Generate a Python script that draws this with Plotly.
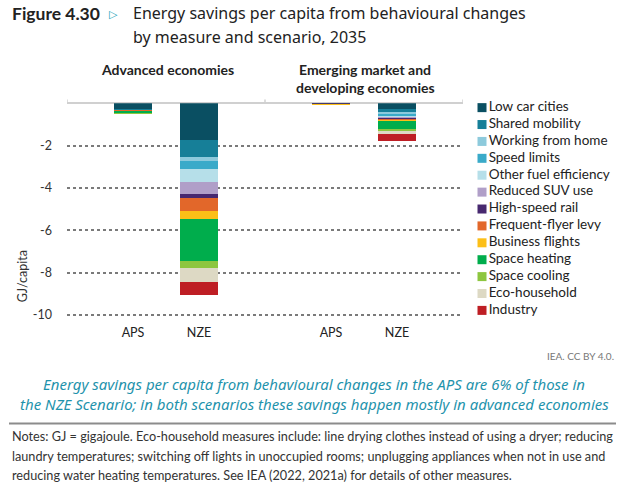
import plotly.graph_objects as go

W, H = 640, 492

measures = ["Low car cities", "Shared mobility", "Working from home", "Speed limits",
            "Other fuel efficiency", "Reduced SUV use", "High-speed rail",
            "Frequent-flyer levy", "Business flights", "Space heating",
            "Space cooling", "Eco-household", "Industry"]
colors = ["#0a4f62", "#167f98", "#8dcadc", "#3aaac9", "#b6dfe9", "#b09fc8", "#47286f",
          "#e2672a", "#fcbf17", "#00ad4c", "#8dc63f", "#ddd9c4", "#be1e24"]

groups = ["Advanced economies", "Emerging market and<br>developing economies"]
scenarios = ["APS", "NZE"]

# savings in GJ/capita (shown as negative values)
adv_aps = [0.33, 0.02, 0.00, 0.00, 0.00, 0.00, 0.00, 0.05, 0.00, 0.08, 0.03, 0.00, 0.00]
adv_nze = [1.74, 0.80, 0.20, 0.36, 0.63, 0.55, 0.19, 0.64, 0.38, 1.99, 0.31, 0.67, 0.60]
emd_aps = [0.03, 0.00, 0.00, 0.00, 0.00, 0.00, 0.02, 0.00, 0.01, 0.00, 0.00, 0.00, 0.00]
emd_nze = [0.28, 0.19, 0.09, 0.06, 0.08, 0.05, 0.02, 0.04, 0.05, 0.38, 0.06, 0.18, 0.33]

y_ticks = [-2, -4, -6, -8, -10]
y_tick_labels = ["-2", "-4", "-6", "-8", "-10"]

series = [adv_aps, adv_nze, emd_aps, emd_nze]
x_pos = [g * 3 + s + 1 for g in range(len(groups)) for s in range(len(scenarios))]
x_lab = [s for g in groups for s in scenarios]

def px(x):
    return x / W

def py(y):
    return 1 - y / H

FONT = "Lato"
TFONT = "Noto Sans"
fig = go.Figure()

for i, m in enumerate(measures):
    fig.add_trace(go.Bar(
        x=x_pos, y=[-s[i] for s in series], name=m,
        marker=dict(color=colors[i], line=dict(width=0)),
        width=0.59, showlegend=False, hoverinfo="name+y"))

# legend drawn as a scatter on its own axes
fig.add_trace(go.Scatter(
    x=[0] * len(measures), y=list(range(len(measures))),
    mode="markers+text", text=measures, textposition="middle right",
    marker=dict(symbol="square", size=9, color=colors),
    textfont=dict(family=FONT, size=13.5, color="#222"),
    xaxis="x2", yaxis="y2", showlegend=False, hoverinfo="skip", cliponaxis=False))

plot_top, plot_bot = 104, 321.3
fig.update_layout(
    width=W, height=H, margin=dict(l=0, r=0, t=0, b=0),
    paper_bgcolor="white", plot_bgcolor="white",
    barmode="relative", bargap=0,
    font=dict(family=FONT, size=12, color="#333"),
    xaxis=dict(domain=[px(67), px(463)], range=[0, 6], tickvals=x_pos, ticktext=x_lab,
               showgrid=False, zeroline=False, showline=False, ticks="",
               ticklabelstandoff=4, tickfont=dict(size=12.5, color="#222")),
    yaxis=dict(domain=[py(plot_bot), py(plot_top)], range=[-10.2, 0],
               tickvals=y_ticks, ticktext=y_tick_labels, showgrid=True,
               gridcolor="#7a7a7a", griddash="dot", gridwidth=1.5,
               zeroline=True, zerolinecolor="#d0d0d0", zerolinewidth=1.5,
               ticks="", ticklabelstandoff=14, tickfont=dict(size=12.5, color="#333")),
    xaxis2=dict(domain=[px(470), 1], range=[-12, 158], visible=False, anchor="y2"),
    yaxis2=dict(domain=[py(plot_bot), py(plot_top)],
                range=[(plot_bot - 108.3) / 17, -(108.3 - plot_top) / 17],
                visible=False, anchor="x2"),
)

ann = []
def text(x, y, s, size=12, color="#333", xanchor="left", family=FONT, **kw):
    ann.append(dict(x=px(x), y=py(y), xref="paper", yref="paper", text=s, showarrow=False,
                    xanchor=xanchor, yanchor="middle",
                    font=dict(size=size, color=color, family=family), **kw))

text(10, 14, "<b>Figure 4.30</b>", size=17.5, color="#222", family=FONT)
text(107, 15, "▷", size=11, color="#1aa0b8", family="DejaVu Sans")
text(131, 13, "Energy savings per capita from behavioural changes", size=16, color="#222", family=TFONT)
text(131, 37, "by measure and scenario, 2035", size=16, color="#222", family=TFONT)

text(167, 70, "<b>Advanced economies</b>", size=14, color="#222", xanchor="center")
text(365, 70, "<b>Emerging market and</b>", size=14, color="#222", xanchor="center")
text(365, 88, "<b>developing economies</b>", size=14, color="#222", xanchor="center")

text(22, 278, "GJ/capita", size=12.5, color="#333", xanchor="center", textangle=-90)

text(616, 358, "IEA. CC BY 4.0.", size=10, color="#777", xanchor="right")
text(314, 386, "<i>Energy savings per capita from behavioural changes in the APS are 6% of those in</i>",
     size=15, color="#1f93ac", xanchor="center", family=TFONT)
text(314, 406, "<i>the NZE Scenario; in both scenarios these savings happen mostly in advanced economies</i>",
     size=15, color="#1f93ac", xanchor="center", family=TFONT)

notes = ["Notes: GJ = gigajoule. Eco-household measures include: line drying clothes instead of using a dryer; reducing",
         "laundry temperatures; switching off lights in unoccupied rooms; unplugging appliances when not in use and",
         "reducing water heating temperatures. See IEA (2022, 2021a) for details of other measures."]
for yy, n in zip([439, 459, 478], notes):
    text(10, yy, n, size=12.7, color="#333")

fig.update_layout(annotations=ann)

shapes = [dict(type="line", xref="paper", yref="paper", x0=px(9), x1=px(616), y0=py(426), y1=py(426),
               line=dict(color="#8c8c8c", width=2))]
for xv in [0, 3, 6]:
    shapes.append(dict(type="line", xref="x", yref="paper", x0=xv, x1=xv,
                       y0=py(plot_top), y1=py(plot_top - 4), line=dict(color="#d0d0d0", width=1.5)))
fig.update_layout(shapes=shapes)

fig.write_html("out.html", config={"displayModeBar": False},
               post_script="document.body.style.margin='0';document.body.style.overflow='hidden';")
